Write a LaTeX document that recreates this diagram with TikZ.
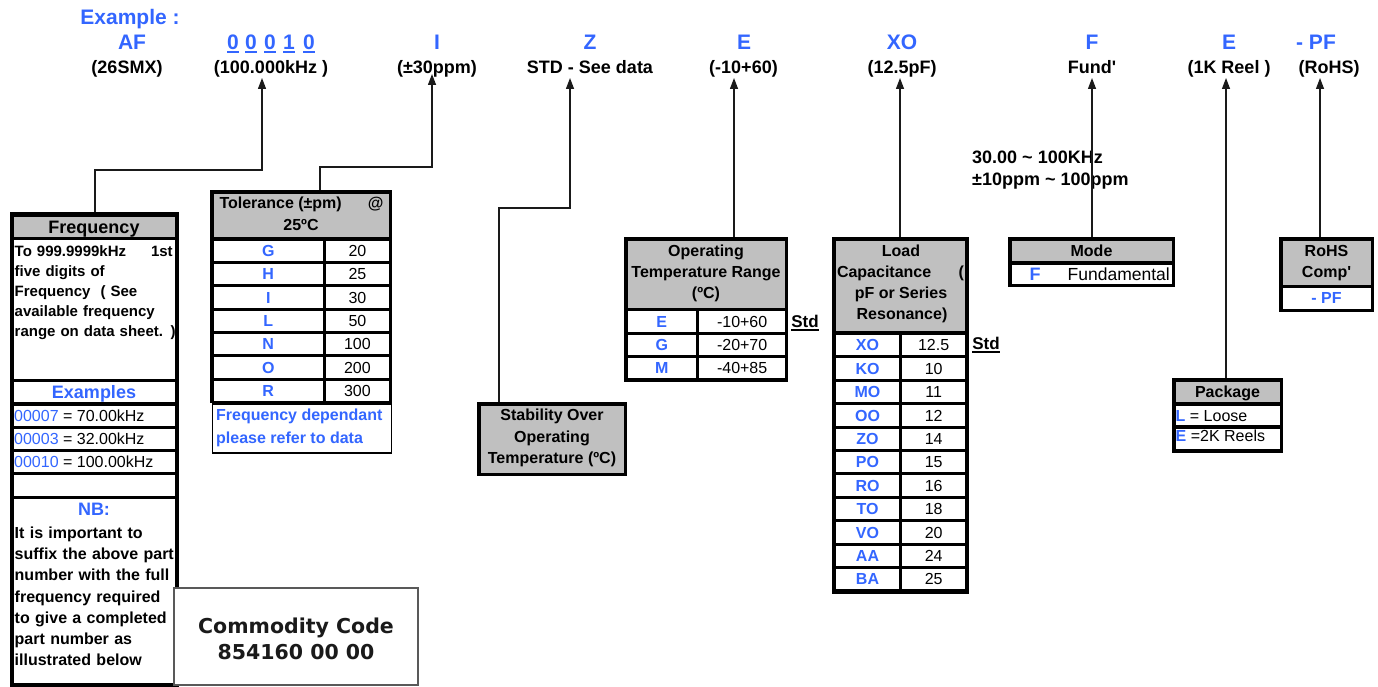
\documentclass[tikz,border=0pt]{standalone}
\usepackage{fontspec}
\setmainfont{Liberation Sans}[Ligatures=TeXOff]
\newfontfamily\dejavu{DejaVu Sans}
\usetikzlibrary{arrows.meta}
\definecolor{cblue}{HTML}{3366FF}
\definecolor{cgray}{HTML}{C0C0C0}
\definecolor{cline}{HTML}{1A1A1A}
\newsavebox\ulbox
\newcommand\ulx[2][2.5]{\sbox\ulbox{#2}\rlap{\vrule width\wd\ulbox height -#1pt depth \dimexpr#1pt+2pt\relax}\usebox\ulbox}
% table row: #1 y, #2 x1, #3 xm1, #4 xm2, #5 x2, #6 key, #7 value, #8 name
\newcommand\trow[8]{%
  \fill[white] (#2,#1) rectangle (#3,#1+20.3);
  \fill[white] (#4,#1) rectangle (#5,#1+20.3);
  \node[key] (#8a) at ({(#2+#3)/2},{#1+15.8}) {#6};
  \node[val] (#8b) at ({(#4+#5)/2},{#1+15.8}) {#7};}
\begin{document}
\begin{tikzpicture}[x=1pt,y=-1pt,
  code/.style={font=\bfseries\fontsize{21}{25}\selectfont, text=cblue, anchor=base, inner sep=0},
  lab/.style={font=\bfseries\fontsize{18}{22}\selectfont, anchor=base, inner sep=0},
  hd/.style={font=\bfseries\fontsize{16}{21}\selectfont, anchor=base, inner sep=0},
  hdl/.style={font=\bfseries\fontsize{18}{22}\selectfont, anchor=base, inner sep=0},
  key/.style={font=\bfseries\fontsize{16}{20}\selectfont, text=cblue, anchor=base, inner sep=0},
  val/.style={font=\fontsize{16}{20}\selectfont, anchor=base, inner sep=0},
  body/.style={font=\bfseries\fontsize{15}{20}\selectfont, align=left, anchor=north west, inner sep=0},
  frame/.style={fill=black, inner sep=0, outer sep=0, anchor=north west},
  com/.style={font=\dejavu\bfseries\fontsize{20.5}{26}\selectfont, text=cline, anchor=base, inner sep=0},
  conn/.style={line width=1.3pt, draw=cline, -{Triangle[length=11pt,width=8pt]}}]
\useasboundingbox (0,0) rectangle (1378,687);
\fill[white] (0,0) rectangle (1378,687);

% ---------- header ----------
\node[code] (example) at (130,24.5) {Example :};
\node[code] (cAF) at (132,49.5) {AF};
\node[code] (d1) at (233,49.5) {\ulx[1.8]{0}};
\node[code] (d2) at (251,49.5) {\ulx[1.8]{0}};
\node[code] (d3) at (270,49.5) {\ulx[1.8]{0}};
\node[code] (d4) at (289,49.5) {\ulx[1.8]{1}};
\node[code] (d5) at (309,49.5) {\ulx[1.8]{0}};
\node[code] (cI) at (437,49.5) {I};
\node[code] (cZ) at (590,49.5) {Z};
\node[code] (cE) at (744,49.5) {E};
\node[code] (cXO) at (902,49.5) {XO};
\node[code] (cF) at (1092,49.5) {F};
\node[code] (cE2) at (1229,49.5) {E};
\node[code] (cPF) at (1316,49.5) {- PF};

\node[lab] (l1) at (127,74) {(26SMX)};
\node[lab] (l2) at (271,74) {(100.000kHz )};
\node[lab] (l3) at (437,74) {(±30ppm)};
\node[lab] (l4) at (590,74) {STD - See data};
\node[lab] (l5) at (743.5,74) {(-10+60)};
\node[lab] (l6) at (902,74) {(12.5pF)};
\node[lab] (l7) at (1092,74) {Fund'};
\node[lab] (l8) at (1229,74) {(1K Reel )};
\node[lab] (l9) at (1329,74) {(RoHS)};

% arrow tips
\coordinate (t1) at (262,78);
\coordinate (t2) at (432,74);
\coordinate (t3) at (570,78);
\coordinate (t4) at (734,78);
\coordinate (t5) at (900,78);
\coordinate (t6) at (1092,78);
\coordinate (t7) at (1226,78);
\coordinate (t8) at (1320,78);
\coordinate (k1) at (95,170);
\coordinate (k2) at (320,167);
\coordinate (k3) at (499,208);

% ---------- Frequency box ----------
\node[frame, minimum width=169pt, minimum height=475pt] (freq) at (10,212) {};
\fill[cgray] (13.5,216.5) rectangle (175,237);
\fill[white] (13.5,240) rectangle (175,378.5);
\fill[white] (13.5,382) rectangle (175,402);
\fill[white] (13.5,405.5) rectangle (175,425.5);
\fill[white] (13.5,428.5) rectangle (175,448.5);
\fill[white] (13.5,451.5) rectangle (175,472);
\fill[white] (13.5,475) rectangle (175,496);
\fill[white] (13.5,499) rectangle (175,683);
\node[hdl] (freqh) at (94,233.4) {Frequency};
\node[body, text width=164pt] (ftext) at (14.5,245) {\makebox[158pt]{To 999.9999kHz\hfill 1st}\\five digits of\\Frequency\ \ ( See\\available frequency\\range on data sheet. )};
\node[hdl, text=cblue] (exh) at (94,398.4) {Examples};
\node[val, anchor=base west] (ex1) at (14,421.2) {\textcolor{cblue}{00007} = 70.00kHz};
\node[val, anchor=base west] (ex2) at (14,444.2) {\textcolor{cblue}{00003} = 32.00kHz};
\node[val, anchor=base west] (ex3) at (14,467.7) {\textcolor{cblue}{00010} = 100.00kHz};
\node[hdl, text=cblue] (nbh) at (94,515) {NB:};
\node[body, font=\bfseries\fontsize{16}{21.1}\selectfont, text width=164pt] (nbtext) at (14.5,527) {It is important to\\suffix the above part\\number with the full\\frequency required\\to give a completed\\part number as\\illustrated below};

% ---------- Commodity code ----------
\node[draw=black!65, fill=white, line width=1.8pt, inner sep=0, anchor=north west, minimum width=244pt, minimum height=97pt] (commod) at (173,587) {};
\node[com] (com1) at (296,633) {Commodity Code};
\node[com] (com2) at (296,659) {854160 00 00};

% ---------- Tolerance box ----------
\node[frame, minimum width=182pt, minimum height=213.3pt] (tolf) at (210,190) {};
\fill[cgray] (213.5,194.5) rectangle (388.5,237.3);
\node[hd] (tolh1) at (301.5,208.7) {\makebox[164pt]{Tolerance (±pm)\hfill @}};
\node[hd] (tolh2) at (301,230.2) {25ºC};
\trow{240.7}{213.5}{323}{326.3}{388.5}{G}{20}{tg}
\trow{264}{213.5}{323}{326.3}{388.5}{H}{25}{th}
\trow{287.3}{213.5}{323}{326.3}{388.5}{I}{30}{ti}
\trow{310.7}{213.5}{323}{326.3}{388.5}{L}{50}{tl}
\trow{334}{213.5}{323}{326.3}{388.5}{N}{100}{tn}
\trow{357.3}{213.5}{323}{326.3}{388.5}{O}{200}{to}
\trow{380.7}{213.5}{323}{326.3}{388.5}{R}{300}{tr}
\node[draw=black, line width=1.6pt, fill=white, inner sep=0, anchor=north west, minimum width=179pt, minimum height=49pt] (tolnote) at (211.5,403.3) {};
\node[key, anchor=base west] (note1) at (216,420.7) {Frequency dependant};
\node[key, anchor=base west] (note2) at (216,443) {please refer to data};

% ---------- Stability box ----------
\node[frame, minimum width=150pt, minimum height=74pt] (stabf) at (477,402) {};
\fill[cgray] (480.5,405.5) rectangle (623.5,472.5);
\node[hd] (st1) at (552,420.7) {Stability Over};
\node[hd] (st2) at (552,442.7) {Operating};
\node[hd] (st3) at (552,463) {Temperature (ºC)};

% ---------- Operating temperature box ----------
\node[frame, minimum width=164pt, minimum height=145pt] (opf) at (624,237) {};
\fill[cgray] (627.5,240.5) rectangle (785,307.5);
\node[hd] (op1) at (706,256.7) {Operating};
\node[hd] (op2) at (706,277.4) {Temperature Range};
\node[hd] (op3) at (706,298) {(ºC)};
\trow{311.3}{627.5}{696}{699.3}{785}{E}{-10+60}{oe}
\trow{334.7}{627.5}{696}{699.3}{785}{G}{-20+70}{og}
\trow{358}{627.5}{696}{699.3}{785}{M}{-40+85}{om}
\node[hd, font=\bfseries\fontsize{17}{20}\selectfont] (std1) at (805,327) {\ulx[2]{Std}};

% ---------- Load capacitance box ----------
\node[frame, minimum width=137pt, minimum height=357pt] (loadf) at (832,237) {};
\fill[cgray] (836,241) rectangle (965,331);
\node[hd] (ld1) at (901,256.4) {Load};
\node[hd] (ld2) at (900.5,277.4) {\makebox[127pt]{Capacitance\hfill(}};
\node[hd] (ld3) at (901,298.4) {pF or Series};
\node[hd] (ld4) at (902,319) {Resonance)};
\trow{335}{836}{899}{902.3}{965}{XO}{12.5}{la}
\trow{358.4}{836}{899}{902.3}{965}{KO}{10}{lb}
\trow{381.8}{836}{899}{902.3}{965}{MO}{11}{lc}
\trow{405.2}{836}{899}{902.3}{965}{OO}{12}{ld}
\trow{428.6}{836}{899}{902.3}{965}{ZO}{14}{le}
\trow{452}{836}{899}{902.3}{965}{PO}{15}{lf}
\trow{475.4}{836}{899}{902.3}{965}{RO}{16}{lg}
\trow{498.8}{836}{899}{902.3}{965}{TO}{18}{lh}
\trow{522.2}{836}{899}{902.3}{965}{VO}{20}{li}
\trow{545.6}{836}{899}{902.3}{965}{AA}{24}{lj}
\trow{569}{836}{899}{902.3}{965}{BA}{25}{lk}
\node[hd, font=\bfseries\fontsize{17}{20}\selectfont] (std2) at (986,349) {\ulx[2]{Std}};

% ---------- frequency range note ----------
\node[lab, anchor=base west] (rng1) at (972,163.4) {30.00 \textasciitilde\ 100KHz};
\node[lab, anchor=base west] (rng2) at (972,185.4) {±10ppm \textasciitilde\ 100ppm};

% ---------- Mode box ----------
\node[frame, minimum width=167pt, minimum height=50pt] (modef) at (1008,237) {};
\fill[cgray] (1011.5,240.5) rectangle (1171.5,261);
\fill[white] (1011.5,264.5) rectangle (1171.5,284);
\node[hd] (modeh) at (1091.5,256.7) {Mode};
\node[key, font=\bfseries\fontsize{18}{20}\selectfont] (modef1) at (1035,280.8) {F};
\node[val, font=\fontsize{17.5}{20}\selectfont, anchor=base east] (modef2) at (1170,280.6) {Fundamental};

% ---------- RoHS box ----------
\node[frame, minimum width=95pt, minimum height=75pt] (rohsf) at (1279,237) {};
\fill[cgray] (1282.5,240.5) rectangle (1370.5,284.5);
\fill[white] (1282.5,288) rectangle (1370.5,308.5);
\node[hd] (rh1) at (1326.5,256.2) {RoHS};
\node[hd] (rh2) at (1326.5,277.2) {Comp'};
\node[key] (rh3) at (1326.5,303.7) {- PF};

% ---------- Package box ----------
\node[frame, minimum width=111pt, minimum height=75pt] (packf) at (1172,378) {};
\fill[cgray] (1175.5,381.5) rectangle (1279.5,402);
\fill[white] (1175.5,405.5) rectangle (1279.5,425);
\fill[white] (1175.5,428.5) rectangle (1279.5,449);
\node[hd] (pkh) at (1227.5,397.4) {Package};
\node[val, anchor=base west] (pk1) at (1175.5,421.8) {\textcolor{cblue}{\bfseries L} = Loose};
\node[val, anchor=base west] (pk2) at (1175.5,441.2) {\textcolor{cblue}{\bfseries E} =2K Reels};

% ---------- connectors ----------
\draw[conn] (freq.north -| k1) -- (k1) -| (t1);
\draw[conn] (tolf.north -| k2) -- (k2) -| (t2);
\draw[conn] (stabf.north -| k3) -- (k3) -| (t3);
\draw[conn] (opf.north -| t4) -- (t4);
\draw[conn] (loadf.north -| t5) -- (t5);
\draw[conn] (modef.north -| t6) -- (t6);
\draw[conn] (packf.north -| t7) -- (t7);
\draw[conn] (rohsf.north -| t8) -- (t8);
\end{tikzpicture}
\end{document}
